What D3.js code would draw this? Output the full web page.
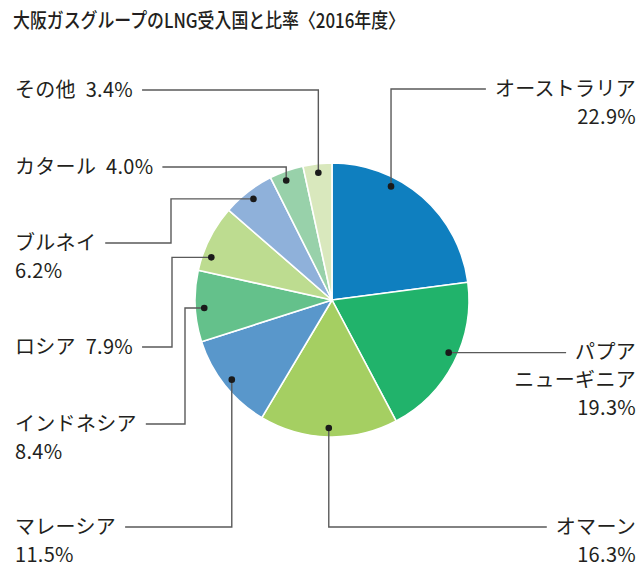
<!DOCTYPE html>
<html>
<head>
<meta charset="utf-8">
<script src="https://cdn.jsdelivr.net/npm/d3@7"></script>
<style>
  html, body { margin: 0; padding: 0; background: #ffffff; }
  svg { display: block; }
  text { font-family: "Noto Sans CJK JP", "Noto Sans", sans-serif; fill: #231f20; }
</style>
</head>
<body>
<svg id="chart" width="643" height="569"></svg>
<script>
// ---- data ----
const title = "大阪ガスグループのLNG受入国と比率〈2016年度〉";
const categories = ["オーストラリア", "パプアニューギニア", "オマーン", "マレーシア", "インドネシア", "ロシア", "ブルネイ", "カタール", "その他"];
const values = [22.9, 19.3, 16.3, 11.5, 8.4, 7.9, 6.2, 4.0, 3.4];
const nameLines = [["オーストラリア"], ["パプア", "ニューギニア"], ["オマーン"], ["マレーシア"], ["インドネシア"], ["ロシア"], ["ブルネイ"], ["カタール"], ["その他"]];
const colors = ["#0f7fbf", "#21b36b", "#a5cf62", "#5997cb", "#64c18b", "#bddc90", "#8fb1da", "#98d1aa", "#d9e8bd"];

// ---- annotation layout (label placement) ----
const labelLayout = [
  { side: "right", y: 89,  route: "v",  inline: false, angleOffset: -13.8 },
  { side: "right", y: 352, route: "h",  inline: false, angleOffset: -3 },
  { side: "right", y: 527, route: "v",  inline: false, angleOffset: 0 },
  { side: "left",  y: 527, route: "v",  inline: false, angleOffset: 0 },
  { side: "left",  y: 424, route: "hv", inline: false, angleOffset: -1, elbowX: 185 },
  { side: "left",  y: 347, route: "hv", inline: true,  angleOffset: -7.3, elbowX: 172 },
  { side: "left",  y: 243, route: "hv", inline: false, angleOffset: 0, elbowX: 171 },
  { side: "left",  y: 167, route: "v",  inline: true,  angleOffset: -1.5 },
  { side: "left",  y: 90,  route: "v",  inline: true,  angleOffset: 0 }
];

const W = 643, H = 569;
const cx = 332, cy = 300, R = 137, dotR = 128;
const leftX = 15, rightX = 636, lineGap = 28, gap = 9, fontSize = 20;

const svg = d3.select("#chart");

svg.append("text")
  .attr("x", 13).attr("y", 28)
  .attr("font-size", 20).attr("font-weight", 500)
  .attr("textLength", 392).attr("lengthAdjust", "spacingAndGlyphs")
  .text(title);

const pie = d3.pie().sort(null).value(d => d)(values);
const arc = d3.arc().innerRadius(0).outerRadius(R);
const g = svg.append("g").attr("transform", `translate(${cx},${cy})`);

g.selectAll("path.slice").data(pie).join("path")
  .attr("class", "slice")
  .attr("d", arc)
  .attr("fill", (d, i) => colors[i])
  .attr("stroke", "#ffffff")
  .attr("stroke-width", 1.6)
  .attr("stroke-linejoin", "round");

const fmt = d3.format(".1f");
const lineLayer = svg.append("g");
const dotLayer = svg.append("g");
const textLayer = svg.append("g");

pie.forEach((d, i) => {
  const L = labelLayout[i];
  const mid = (d.startAngle + d.endAngle) / 2 + L.angleOffset * Math.PI / 180;
  const px = cx + dotR * Math.sin(mid);
  const py = cy - dotR * Math.cos(mid);

  const pct = fmt(values[i]) + "%";
  let lines = nameLines[i].slice();
  if (L.inline) lines[lines.length - 1] = lines[lines.length - 1] + " " + pct;
  else lines.push(pct);

  const t = textLayer.append("text")
    .attr("font-size", fontSize)
    .attr("word-spacing", 5)
    .attr("letter-spacing", 0.3)
    .attr("text-anchor", L.side === "left" ? "start" : "end");
  lines.forEach((s, k) => {
    t.append("tspan")
      .attr("x", L.side === "left" ? leftX : rightX)
      .attr("y", L.y + k * lineGap)
      .attr("dy", "0.36em")
      .text(s);
  });
  const first = t.select("tspan").node();
  const w = first.getComputedTextLength();
  const endX = L.side === "left" ? leftX + w + gap : rightX - w - gap;

  let pts;
  if (L.route === "v") pts = [[px, py], [px, L.y], [endX, L.y]];
  else if (L.route === "h") pts = [[px, py], [endX, py]];
  else pts = [[px, py], [L.elbowX, py], [L.elbowX, L.y], [endX, L.y]];

  lineLayer.append("path")
    .attr("d", d3.line()(pts))
    .attr("fill", "none")
    .attr("stroke", "#5a5a5a")
    .attr("stroke-width", 1.4);

  dotLayer.append("circle")
    .attr("cx", px).attr("cy", py).attr("r", 3.3)
    .attr("fill", "#1a1a1a");
});
</script>
</body>
</html>
